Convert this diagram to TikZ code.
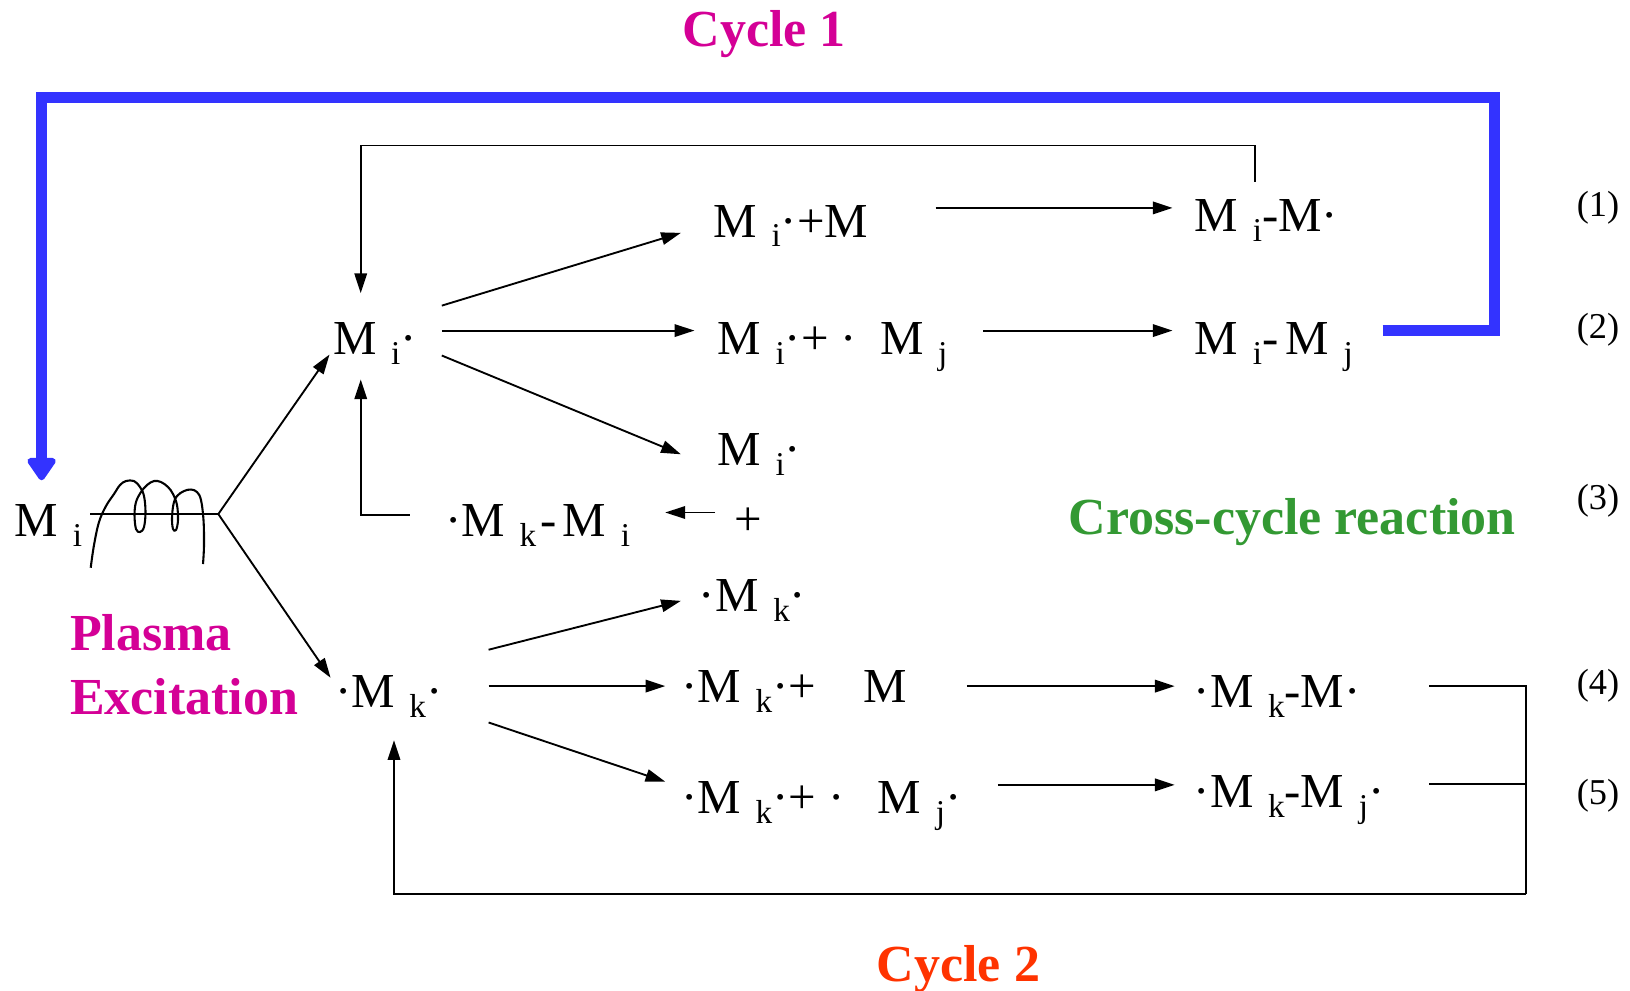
\documentclass[tikz,border=0pt]{standalone}
\usepackage{fontspec}
\setmainfont{Liberation Serif}
\usetikzlibrary{arrows.meta}
\definecolor{cycone}{RGB}{212,0,150}
\definecolor{cyctwo}{RGB}{255,51,0}
\definecolor{crossg}{RGB}{51,153,51}
\definecolor{loopblue}{RGB}{51,51,255}
% lowered, smaller index set after a species symbol
\newcommand\lo[1]{\hspace{7pt}\raisebox{-4.8pt}{\fontsize{16pt}{16pt}\selectfont #1}}

\begin{document}
\begin{tikzpicture}[x=0.5pt,y=-0.5pt,
  chem/.style={anchor=base west,inner sep=0pt,font=\fontsize{23.5pt}{28pt}\selectfont},
  eqno/.style={anchor=east,inner sep=0pt,font=\fontsize{17.5pt}{20pt}\selectfont},
  lbl/.style={inner sep=0pt,anchor=base,font=\fontsize{25pt}{30pt}\selectfont\bfseries},
  arr/.style={line width=0.9pt,-{Triangle[length=9.5pt,width=6pt]}},
  wire/.style={line width=0.9pt},
  blueloop/.style={loopblue,line width=5.2pt,line join=miter,-{Triangle[length=12pt,width=15.5pt,round]}}]
\useasboundingbox (0,0) rectangle (1568,953);

% species
\node[chem] (mi)    at (14,516)   {M\lo{i}};
\node[chem] (mirad) at (320,341)  {M\lo{i}·};
\node[chem] (p1)    at (686,228)  {M\lo{i}·+M};
\node[chem] (q1)    at (1149,223) {M\lo{i}-M·};
\node[chem] (p2)    at (690,341)  {M\lo{i}·+ ·\hspace{11pt}M\lo{j}};
\node[chem] (q2)    at (1149,341) {M\lo{i}-\hspace{3.5pt}M\lo{j}};
\node[chem] (p3)    at (690,448)  {M\lo{i}·};
\node[chem] (mkmi)  at (428,516)  {·M\lo{k}\hspace{2pt}-\hspace{3pt}M\lo{i}};
\node[chem] (plus)  at (706,515)  {+};
\node[chem] (pk)    at (672,588)  {·M\lo{k}·};
\node[chem] (mkrad) at (322,681)  {·M\lo{k}·};
\node[chem] (p4)    at (655,676)  {·M\lo{k}·+\hspace{23pt}M};
\node[chem] (q4)    at (1148,681) {·M\lo{k}-M·};
\node[chem] (p5)    at (655,783)  {·M\lo{k}·+ ·\hspace{16pt}M\lo{j}·};
\node[chem] (q5)    at (1148,777) {·M\lo{k}-M\lo{j}·};

% reaction numbers
\node[eqno] (n1) at (1558,200) {(1)};
\node[eqno] (n2) at (1558,317) {(2)};
\node[eqno] (n3) at (1558,482) {(3)};
\node[eqno] (n4) at (1558,660) {(4)};
\node[eqno] (n5) at (1558,765) {(5)};

% labels
\node[lbl,text=cycone] (c1) at (735,45) {Cycle 1};
\node[lbl,text=cyctwo] (c2) at (922,944) {Cycle 2};
\node[lbl,text=crossg] (cc) at (1243,514) {Cross-cycle reaction};
\node[lbl,text=cycone,anchor=base west] (pl) at (67,626) {Plasma};
\node[lbl,text=cycone,anchor=base west] (ex) at (67,687) {Excitation};

% plasma coil around the feed line
\coordinate (jn) at ([shift={(196,-21.5)}]mi.base west);
\coordinate (feed) at ([shift={(73,-21.5)}]mi.base west);
\draw[wire] (feed) -- (jn);
\begin{scope}[scale=1/1.0395]
\draw[line width=1pt,line join=round] plot[smooth,tension=0.6] coordinates {
 (90.7,567.7) (94,545) (99,522) (106,506) (114,494) (120,485) (126,481)
 (134,481) (140,487) (144,496) (145.5,512) (144,527) (140,532) (136,529)
 (134.5,515) (136,502) (141,492) (147,485) (154,481) (161,482) (168,487)
 (173,494) (177,505) (178,520) (176,530) (173,529) (172,518) (173.5,504)
 (177,496) (184,491) (191,489.5) (197,492) (201,500) (203.5,520) (204,545)
 (203,564)};
\end{scope}

% excitation branches
\draw[arr] (jn) -- ([shift={(-3,0)}]mirad.base west);
\draw[arr] (jn) -- ([shift={(-4,-29)}]mkrad.base west);

% cycle 1 reactions
\draw[arr] ([shift={(105,-47)}]mirad.base west) -- ([shift={(-31,-4)}]p1.base west);
\draw[arr] ([shift={(105,-23)}]mirad.base west) -- ([shift={(-22,-23)}]p2.base west);
\draw[arr] ([shift={(105,1)}]mirad.base west) -- ([shift={(-35,-11)}]p3.base west);
\draw[arr] ([shift={(214,-28)}]p1.base west) -- ([shift={(-21,-23)}]q1.base west);
\draw[arr] ([shift={(256,-23)}]p2.base west) -- ([shift={(-21,-23)}]q2.base west);
\draw[arr] ([shift={(58,-48)}]q1.base west) |- (347,140) -- ([shift={(27,-59)}]mirad.base west);

% cross-cycle product feeding back
\draw[arr] ([shift={(-18,-22)}]plus.base west) -- ([shift={(212,-23)}]mkmi.base west);
\draw[arr] ([shift={(-34,-21)}]mkmi.base west) -| ([shift={(27,24)}]mirad.base west);

% cycle 2 reactions
\draw[arr] ([shift={(148,-56)}]mkrad.base west) -- ([shift={(-17,-10)}]pk.base west);
\draw[arr] ([shift={(148,-21)}]mkrad.base west) -- ([shift={(-15,-16)}]p4.base west);
\draw[arr] ([shift={(148,14)}]mkrad.base west) -- ([shift={(-15,-31)}]p5.base west);
\draw[arr] ([shift={(275,-16)}]p4.base west) -- ([shift={(-18,-21)}]q4.base west);
\draw[arr] ([shift={(305,-28)}]p5.base west) -- ([shift={(-18,-22)}]q5.base west);
\coordinate (br) at (1468,860);
\coordinate (q5end) at ([shift={(227,-23)}]q5.base west);
\draw[wire] ([shift={(227,-21)}]q4.base west) -| (br);
\draw[wire] (q5end) -- (br |- q5end);
\draw[arr] (br) -| ([shift={(57,31)}]mkrad.base west);

% cycle 1 return path
\draw[blueloop] ([shift={(181,-23)}]q2.base west) -| (1438,94) -| ([shift={(26,-54)}]mi.base west);
\end{tikzpicture}
\end{document}
